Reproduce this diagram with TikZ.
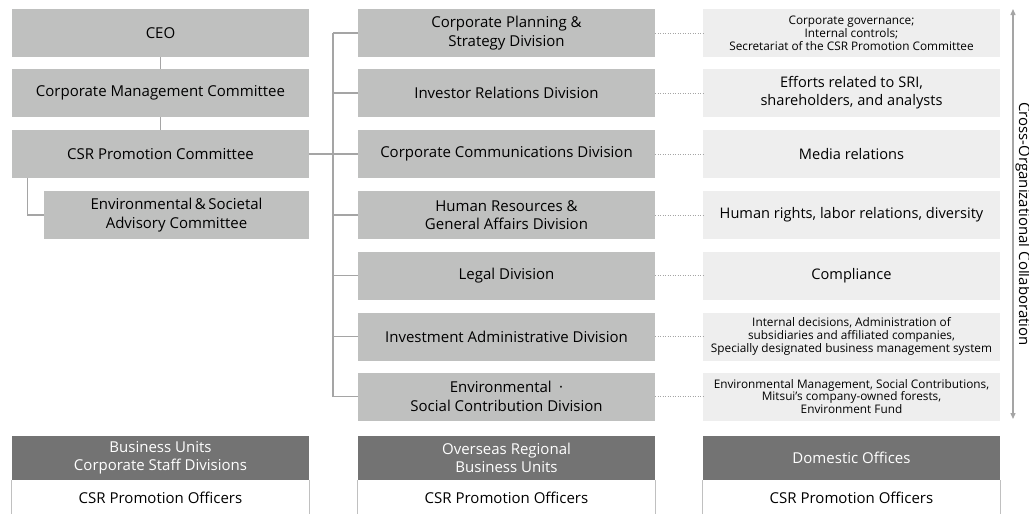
\documentclass[tikz,border=0pt]{standalone}
\usepackage{fontspec}
\setmainfont{Open Sans}
\usetikzlibrary{arrows.meta}

\definecolor{boxgray}{RGB}{191,192,191}
\definecolor{notegray}{RGB}{238,238,238}
\definecolor{headgray}{RGB}{115,115,115}
\definecolor{linegray}{RGB}{165,165,165}

\begin{document}
\begin{tikzpicture}[x=1pt, y=-1pt, >={Triangle[length=6pt, width=5pt]},
    unit/.style={fill=boxgray, minimum width=297pt, minimum height=48pt, inner sep=0pt,
      align=center, font=\fontsize{15}{18.5}\selectfont},
    note/.style={fill=notegray, minimum width=297pt, minimum height=48pt, inner sep=0pt,
      align=center, font=\fontsize{14.6}{18}\selectfont},
    smallnote/.style={note, font=\fontsize{11.8}{12.8}\selectfont},
    head/.style={fill=headgray, text=white, minimum width=297pt, minimum height=44pt,
      inner sep=0pt, align=center, font=\fontsize{15}{18}\selectfont},
    officer/.style={minimum width=297pt, minimum height=34pt, inner sep=0pt,
      font=\fontsize{15}{18}\selectfont},
    link/.style={draw=linegray, line width=1.3pt},
    dotlink/.style={draw=linegray, line width=0.8pt, dash pattern=on 1pt off 1.5pt}]

    \useasboundingbox (0,0) rectangle (1029,514);

    % Left column: management
    \node[unit] (ceo) at (160.5,33) {CEO};
    \node[unit] (cmc) at (160.5,93) {Corporate Management Committee};
    \node[unit] (csr) at (160.5,154) {CSR Promotion Committee};
    \node[unit, minimum width=265pt] (advisory) at (176.5,215)
      {Environmental\,\&\,Societal\\Advisory Committee};

    \draw[link] (ceo) -- (cmc);
    \draw[link] (cmc) -- (csr);
    \draw[link] (csr.south west) ++(16,0) coordinate (advtop) |- (advisory.west);

    % Middle column: divisions
    \node[unit] (d1) at (506.5,33) {Corporate Planning \&\\Strategy Division};
    \node[unit] (d2) at (506.5,93) {Investor Relations Division};
    \node[unit] (d3) at (506.5,154) {Corporate Communications Division};
    \node[unit] (d4) at (506.5,215) {Human Resources \&\\General Affairs Division};
    \node[unit] (d5) at (506.5,275.5) {Legal Division};
    \node[unit] (d6) at (506.5,336.5) {Investment Administrative Division};
    \node[unit] (d7) at (506.5,396.5) {Environmental\enspace·\\Social Contribution Division};

    % Right column: roles
    \node[smallnote] (n1) at (851.5,33)
      {Corporate governance;\\Internal controls;\\Secretariat of the CSR Promotion Committee};
    \node[note] (n2) at (851.5,93) {Efforts related to SRI,\\shareholders, and analysts};
    \node[note] (n3) at (851.5,154) {Media relations};
    \node[note] (n4) at (851.5,215) {Human rights, labor relations, diversity};
    \node[note] (n5) at (851.5,275.5) {Compliance};
    \node[smallnote] (n6) at (851.5,336.5)
      {Internal decisions, Administration of\\subsidiaries and affiliated companies,\\Specially designated business management system};
    \node[smallnote] (n7) at (851.5,396.5)
      {Environmental Management, Social Contributions,\\Mitsui's company-owned forests,\\Environment Fund};

    % Bus from the CSR Promotion Committee
    \coordinate (bustop) at (333,33);
    \coordinate (busbot) at (333,396.5);
    \draw[link] (bustop) -- (busbot);
    \draw[link] (csr.east) -- (csr.east -| bustop);
    \foreach \i in {1,...,7} {
      \draw[link] (d\i.west -| bustop) -- (d\i.west);
      \draw[dotlink] (d\i.east) -- (n\i.west);
    }

    % Cross-organizational arrow
    \coordinate (collabtop) at (1013,9);
    \coordinate (collabbot) at (1013,419);
    \draw[<->, draw=linegray, fill=linegray, line width=1.3pt] (collabtop) -- (collabbot);
    \node[rotate=-90, font=\fontsize{15}{16}\selectfont] (collab) at (1023,224)
      {Cross-Organizational Collaboration};

    % Bottom: CSR promotion officers
    \node[head] (h1) at (160.5,458) {Business Units\\Corporate Staff Divisions};
    \node[head] (h2) at (506.5,458) {Overseas Regional\\Business Units};
    \node[head] (h3) at (851.5,458) {Domestic Offices};
    \foreach \i in {1,2,3} {
      \node[officer, anchor=north] (o\i) at (h\i.south) {CSR Promotion Officers};
      \draw[draw=linegray!70, line width=0.8pt] (h\i.south west) -- ++(0,36);
      \draw[draw=linegray!70, line width=0.8pt] (h\i.south east) -- ++(0,36);
    }
\end{tikzpicture}
\end{document}
